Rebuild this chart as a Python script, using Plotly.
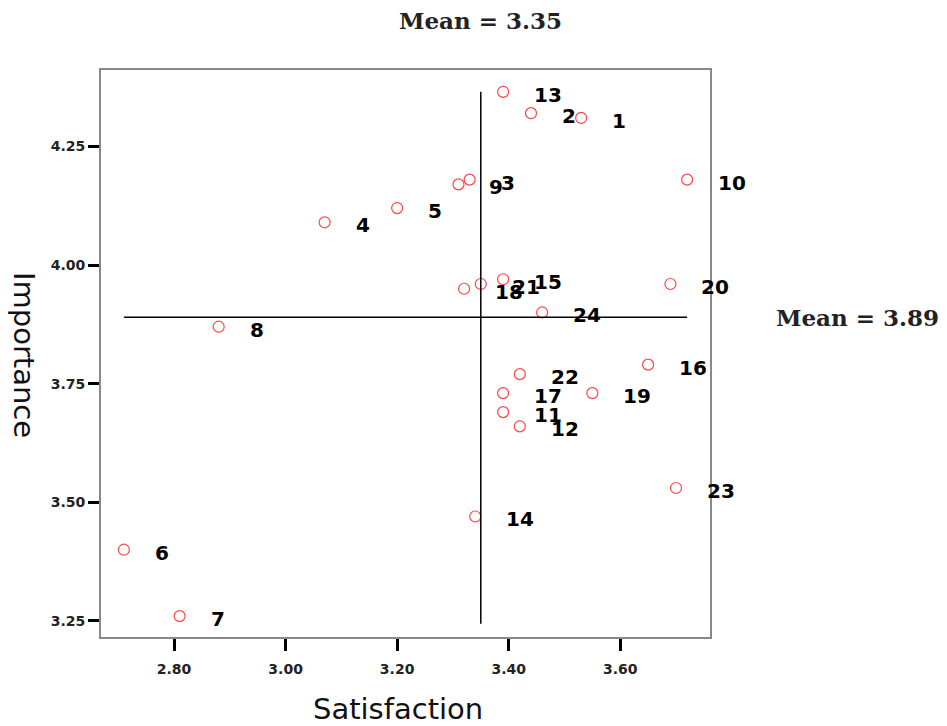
import plotly.graph_objects as go

labels = ["1", "2", "3", "4", "5", "6", "7", "8", "9", "10", "11", "12",
          "13", "14", "15", "16", "17", "18", "19", "20", "21", "22", "23", "24"]
satisfaction = [3.53, 3.44, 3.33, 3.07, 3.20, 2.71, 2.81, 2.88, 3.31, 3.72, 3.39, 3.42,
                3.39, 3.34, 3.39, 3.65, 3.39, 3.32, 3.55, 3.69, 3.35, 3.42, 3.70, 3.46]
importance = [4.31, 4.32, 4.18, 4.09, 4.12, 3.40, 3.26, 3.87, 4.17, 4.18, 3.69, 3.66,
              4.365, 3.47, 3.97, 3.79, 3.73, 3.95, 3.73, 3.96, 3.96, 3.77, 3.53, 3.90]
mean_satisfaction = 3.35
mean_importance = 3.89
x_ticks = [2.80, 3.00, 3.20, 3.40, 3.60]
y_ticks = [3.25, 3.50, 3.75, 4.00, 4.25]

fig = go.Figure()
fig.add_trace(go.Scatter(
    x=satisfaction, y=importance, mode="markers",
    marker=dict(symbol="circle-open", size=11, color="#ff4545", line=dict(width=1.2)),
    hoverinfo="text", text=labels, showlegend=False,
))

for lab, xv, yv in zip(labels, satisfaction, importance):
    fig.add_annotation(x=xv, y=yv, text=lab, showarrow=False, xanchor="left",
                       xshift=29, yshift=-3,
                       font=dict(family="DejaVu Sans", size=20, color="black", weight="bold"))

# mean lines
fig.add_shape(type="line", x0=mean_satisfaction, x1=mean_satisfaction,
              y0=min(importance) - 0.016, y1=max(importance),
              line=dict(color="black", width=1.5))
fig.add_shape(type="line", x0=min(satisfaction), x1=max(satisfaction),
              y0=mean_importance, y1=mean_importance,
              line=dict(color="black", width=1.5))

meanfont = dict(family="DejaVu Serif", size=23, color="#222", weight="bold")
fig.add_annotation(x=mean_satisfaction, xref="x", y=1.088, yref="paper",
                   xanchor="center", yanchor="middle",
                   text=f"Mean = {mean_satisfaction:.2f}", showarrow=False, font=meanfont)
fig.add_annotation(x=1.243, xref="paper", y=mean_importance, yref="y",
                   xanchor="center", yanchor="middle",
                   text=f"Mean = {mean_importance:.2f}", showarrow=False, font=meanfont)

titlefont = dict(family="DejaVu Sans", size=29, color="#111")
fig.add_annotation(x=0.488, xref="paper", y=-0.127, yref="paper",
                   xanchor="center", yanchor="middle",
                   text="Satisfaction", showarrow=False, font=titlefont)
fig.add_annotation(x=-0.126, xref="paper", y=0.497, yref="paper",
                   xanchor="center", yanchor="middle", textangle=90,
                   text="Importance", showarrow=False, font=titlefont)

tickfont = dict(family="DejaVu Sans", size=14, color="#222", weight="bold")
fig.update_xaxes(range=[2.669, 3.761], tickvals=x_ticks, automargin=False,
                 ticktext=[f"{v:.2f}" for v in x_ticks], ticklabelstandoff=6,
                 ticks="outside", ticklen=12, tickwidth=2.5, tickcolor="black",
                 showline=True, linecolor="#888", linewidth=2, mirror=True,
                 showgrid=False, zeroline=False, tickfont=tickfont)
fig.update_yaxes(range=[3.216, 4.411], tickvals=y_ticks, automargin=False,
                 ticktext=[f"{v:.2f}" for v in y_ticks],
                 ticks="outside", ticklen=11, tickwidth=2.5, tickcolor="black",
                 showline=True, linecolor="#888", linewidth=2, mirror=True,
                 showgrid=False, zeroline=False, tickfont=tickfont)

# body has an 8px margin in the page, so offsets are reduced by 8
fig.update_layout(width=947, height=726, paper_bgcolor="white", plot_bgcolor="white",
                  margin=dict(l=93, r=245, t=62, b=97))

fig.write_html("out.html")
